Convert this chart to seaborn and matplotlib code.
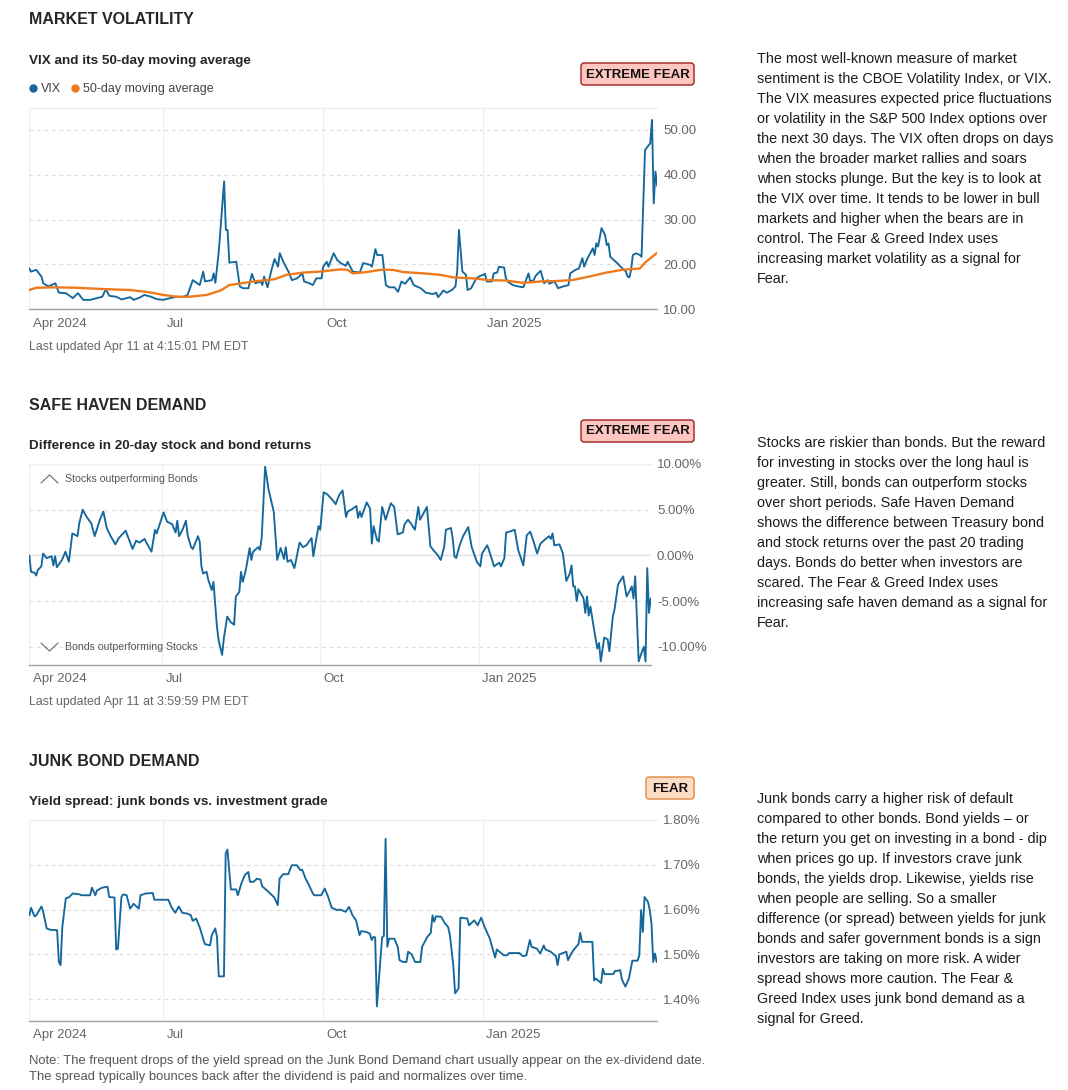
import pandas as pd
import matplotlib
matplotlib.use("Agg")
import matplotlib.pyplot as plt
import matplotlib.ticker as mticker
import seaborn as sns
from matplotlib.transforms import Affine2D, ScaledTranslation
from matplotlib.lines import Line2D
from matplotlib.patches import FancyBboxPatch

# ---------------- data ----------------
vix_dates = ["2024-04-15","2024-04-16","2024-04-19","2024-04-22","2024-04-23","2024-04-26","2024-04-30",
    "2024-05-02","2024-05-06","2024-05-10","2024-05-13","2024-05-16","2024-05-20","2024-05-24","2024-05-27",
    "2024-05-29","2024-05-31","2024-06-04","2024-06-07","2024-06-12","2024-06-14","2024-06-18","2024-06-20",
    "2024-06-24","2024-06-27","2024-07-01","2024-07-05","2024-07-09","2024-07-12","2024-07-15","2024-07-18",
    "2024-07-22","2024-07-24","2024-07-25","2024-07-29","2024-07-30","2024-07-31","2024-08-02","2024-08-05",
    "2024-08-06","2024-08-07","2024-08-08","2024-08-12","2024-08-14","2024-08-16","2024-08-19","2024-08-21",
    "2024-08-23","2024-08-26","2024-08-27","2024-08-28","2024-08-30","2024-09-01","2024-09-03","2024-09-05",
    "2024-09-06","2024-09-08","2024-09-11","2024-09-13","2024-09-16","2024-09-19","2024-09-20","2024-09-23",
    "2024-09-25","2024-09-27","2024-09-30","2024-10-01","2024-10-03","2024-10-04","2024-10-07","2024-10-09",
    "2024-10-11","2024-10-14","2024-10-15","2024-10-18","2024-10-22","2024-10-24","2024-10-28","2024-10-29",
    "2024-10-31","2024-11-01","2024-11-04","2024-11-06","2024-11-08","2024-11-11","2024-11-13","2024-11-15",
    "2024-11-17","2024-11-20","2024-11-22","2024-11-26","2024-11-29","2024-12-03","2024-12-05","2024-12-06",
    "2024-12-08","2024-12-09","2024-12-11","2024-12-14","2024-12-16","2024-12-17","2024-12-18","2024-12-20",
    "2024-12-22","2024-12-23","2024-12-25","2024-12-28","2024-12-30","2025-01-01","2025-01-02","2025-01-03",
    "2025-01-06","2025-01-07","2025-01-09","2025-01-10","2025-01-13","2025-01-14","2025-01-15","2025-01-18",
    "2025-01-21","2025-01-24","2025-01-27","2025-01-28","2025-01-30","2025-01-31","2025-02-03","2025-02-05",
    "2025-02-07","2025-02-08","2025-02-11","2025-02-13","2025-02-16","2025-02-19","2025-02-20","2025-02-23",
    "2025-02-25","2025-02-27","2025-02-28","2025-03-02","2025-03-05","2025-03-06","2025-03-07","2025-03-08",
    "2025-03-10","2025-03-12","2025-03-13","2025-03-14","2025-03-15","2025-03-17","2025-03-19","2025-03-21",
    "2025-03-24","2025-03-25","2025-03-26","2025-03-27","2025-03-28","2025-03-30","2025-04-01","2025-04-02",
    "2025-04-04","2025-04-07","2025-04-08","2025-04-09","2025-04-10","2025-04-11"]
vix_values = [19.1,18.4,18.8,17.3,15.8,15.1,15.8,
    13.7,13.6,12.5,13.6,12.1,12.1,12.5,12.8,
    14.5,13.0,12.8,12.2,12.7,12.1,12.7,13.2,
    12.8,12.3,12.1,12.5,12.8,12.7,13.2,16.5,
    15.4,18.4,16.2,16.5,18.0,15.9,23.2,38.5,
    27.7,27.7,20.4,20.6,15.1,14.7,14.7,17.9,
    15.8,16.2,15.4,17.3,14.9,18.4,21.2,19.5,
    22.5,20.6,18.4,16.5,16.9,18.0,16.2,15.8,
    15.4,16.9,16.9,19.5,20.6,19.5,22.5,21.0,
    20.3,19.7,20.6,18.4,18.2,20.3,19.9,19.5,
    23.4,22.1,22.1,15.4,14.9,14.9,13.9,16.2,
    15.7,17.1,15.4,14.7,13.7,13.4,13.7,12.7,
    13.6,14.2,13.7,14.3,15.1,18.4,27.7,18.4,
    17.7,14.3,14.7,16.9,17.4,17.7,17.9,16.2,
    16.2,18.0,18.2,19.5,19.3,16.9,16.2,15.4,
    15.1,14.9,18.0,16.2,16.5,17.4,18.6,15.8,
    16.5,15.7,16.2,14.7,15.1,15.4,18.0,18.8,
    19.1,21.4,19.5,21.4,23.6,22.1,24.7,24.0,
    28.1,26.6,24.3,24.7,21.7,21.0,20.3,19.5,
    18.4,17.3,17.1,18.8,22.1,22.5,22.1,21.7,
    45.5,47.0,52.2,33.6,40.7,37.5]

ma_dates = ["2024-04-15","2024-04-19","2024-04-29","2024-05-12","2024-05-28","2024-06-12","2024-06-23",
    "2024-07-01","2024-07-09","2024-07-16","2024-07-26","2024-08-03","2024-08-08","2024-08-22","2024-09-03",
    "2024-09-10","2024-09-20","2024-09-29","2024-10-11","2024-10-15","2024-10-18","2024-10-26","2024-11-03",
    "2024-11-10","2024-11-16","2024-11-28","2024-12-07","2024-12-15","2024-12-26","2025-01-04","2025-01-14",
    "2025-01-24","2025-02-03","2025-02-12","2025-02-21","2025-03-03","2025-03-13","2025-03-22","2025-04-01",
    "2025-04-04","2025-04-11"]
ma_values = [14.3,14.8,14.9,14.8,14.5,14.3,13.8,
    13.2,12.8,12.8,13.2,14.2,15.4,16.2,16.7,
    17.7,18.2,18.4,18.9,18.8,18.0,18.3,18.8,
    18.8,18.3,18.0,17.7,17.1,16.9,16.5,16.4,
    15.9,16.2,16.3,16.5,17.3,18.2,18.8,19.1,
    20.4,22.6]

haven_dates = ["2024-04-15","2024-04-16","2024-04-18","2024-04-19","2024-04-20","2024-04-22","2024-04-23",
    "2024-04-25","2024-04-28","2024-04-29","2024-04-30","2024-05-01","2024-05-04","2024-05-06","2024-05-08",
    "2024-05-10","2024-05-13","2024-05-14","2024-05-16","2024-05-18","2024-05-21","2024-05-23","2024-05-26",
    "2024-05-28","2024-05-30","2024-06-01","2024-06-04","2024-06-06","2024-06-10","2024-06-12","2024-06-14",
    "2024-06-16","2024-06-18","2024-06-21","2024-06-22","2024-06-25","2024-06-27","2024-06-28","2024-07-02",
    "2024-07-04","2024-07-07","2024-07-09","2024-07-10","2024-07-11","2024-07-13","2024-07-15","2024-07-16",
    "2024-07-18","2024-07-19","2024-07-22","2024-07-23","2024-07-24","2024-07-25","2024-07-27","2024-07-28",
    "2024-07-30","2024-07-31","2024-08-02","2024-08-03","2024-08-05","2024-08-06","2024-08-08","2024-08-10",
    "2024-08-12","2024-08-13","2024-08-15","2024-08-16","2024-08-17","2024-08-18","2024-08-19","2024-08-21",
    "2024-08-22","2024-08-23","2024-08-26","2024-08-27","2024-08-28","2024-08-30","2024-09-01","2024-09-04",
    "2024-09-06","2024-09-08","2024-09-10","2024-09-11","2024-09-12","2024-09-14","2024-09-16","2024-09-17",
    "2024-09-19","2024-09-21","2024-09-23","2024-09-26","2024-09-27","2024-09-30","2024-10-01","2024-10-03",
    "2024-10-05","2024-10-08","2024-10-10","2024-10-12","2024-10-14","2024-10-16","2024-10-17","2024-10-19",
    "2024-10-22","2024-10-23","2024-10-24","2024-10-25","2024-10-28","2024-10-30","2024-10-31","2024-11-01",
    "2024-11-03","2024-11-04","2024-11-06","2024-11-08","2024-11-11","2024-11-13","2024-11-15","2024-11-18",
    "2024-11-19","2024-11-21","2024-11-23","2024-11-25","2024-11-27","2024-11-28","2024-12-02","2024-12-04",
    "2024-12-06","2024-12-08","2024-12-10","2024-12-12","2024-12-13","2024-12-16","2024-12-17","2024-12-18",
    "2024-12-19","2024-12-21","2024-12-23","2024-12-26","2024-12-28","2024-12-31","2025-01-02","2025-01-03",
    "2025-01-06","2025-01-07","2025-01-10","2025-01-13","2025-01-14","2025-01-16","2025-01-17","2025-01-19",
    "2025-01-22","2025-01-24","2025-01-27","2025-01-29","2025-01-31","2025-02-02","2025-02-04","2025-02-06",
    "2025-02-09","2025-02-11","2025-02-12","2025-02-13","2025-02-14","2025-02-17","2025-02-19","2025-02-21",
    "2025-02-23","2025-02-24","2025-02-25","2025-02-26","2025-02-27","2025-02-28","2025-03-03","2025-03-04",
    "2025-03-05","2025-03-06","2025-03-07","2025-03-09","2025-03-11","2025-03-12","2025-03-13","2025-03-15",
    "2025-03-17","2025-03-18","2025-03-20","2025-03-21","2025-03-23","2025-03-26","2025-03-28","2025-03-30",
    "2025-03-31","2025-04-01","2025-04-02","2025-04-04","2025-04-06","2025-04-07","2025-04-08","2025-04-09",
    "2025-04-10","2025-04-11"]
haven_values = [0.0,-1.8,-1.9,-2.2,-1.6,-1.2,0.2,
    -0.3,-0.1,-1.1,-0.1,-1.3,-0.5,0.4,-0.7,
    2.4,2.1,3.5,5.0,4.3,3.5,2.1,3.9,
    4.8,3.0,2.2,1.2,1.9,2.7,1.7,0.7,
    1.6,1.4,1.8,1.4,0.4,2.8,2.4,4.7,
    3.7,3.4,2.5,3.8,2.1,2.8,3.8,2.2,
    0.9,0.7,2.1,1.5,-1.2,-2.0,-1.8,-2.7,
    -3.8,-2.9,-7.8,-9.3,-10.9,-9.1,-6.7,-7.3,
    -7.6,-4.5,-4.0,-1.8,-2.9,-2.2,-1.4,0.8,
    -0.5,0.4,0.9,0.6,1.9,9.7,7.2,4.8,
    -0.5,0.8,-0.4,0.9,-0.7,-0.5,-1.4,-0.5,
    1.4,0.9,1.1,1.9,-0.1,3.2,2.8,6.9,
    6.7,6.1,5.6,6.6,7.1,4.2,4.8,5.0,
    5.4,4.1,4.8,4.2,5.8,5.1,1.3,3.2,
    1.7,1.5,5.3,3.9,5.7,5.3,2.3,2.5,
    3.4,3.9,3.4,2.8,5.3,3.9,5.3,1.0,
    0.5,0.1,-0.5,0.9,2.8,3.0,1.8,-0.1,
    -0.3,1.1,2.1,3.1,0.9,-0.7,-1.2,0.2,
    1.1,0.6,-1.2,-0.8,-1.2,-0.3,2.5,2.6,
    2.8,0.6,-1.1,2.2,2.6,1.5,0.2,1.3,
    1.8,2.1,1.8,2.4,1.1,1.2,0.2,-2.8,
    -2.0,-1.1,-3.4,-3.4,-5.0,-3.7,-4.7,-6.3,
    -4.5,-6.6,-5.6,-8.0,-10.2,-9.6,-11.6,-9.0,
    -9.2,-10.5,-6.7,-5.9,-3.2,-2.3,-4.5,-3.8,
    -3.4,-4.7,-2.3,-11.6,-10.5,-10.0,-11.6,-1.4,
    -6.3,-4.7]

junk_dates = ["2024-04-15","2024-04-16","2024-04-18","2024-04-19","2024-04-22","2024-04-23","2024-04-25",
    "2024-04-27","2024-05-01","2024-05-02","2024-05-03","2024-05-04","2024-05-06","2024-05-08","2024-05-10",
    "2024-05-14","2024-05-15","2024-05-20","2024-05-21","2024-05-23","2024-05-24","2024-05-27","2024-05-30",
    "2024-05-31","2024-06-03","2024-06-04","2024-06-05","2024-06-07","2024-06-08","2024-06-10","2024-06-12",
    "2024-06-14","2024-06-17","2024-06-18","2024-06-21","2024-06-25","2024-06-26","2024-07-04","2024-07-06",
    "2024-07-08","2024-07-10","2024-07-12","2024-07-15","2024-07-17","2024-07-18","2024-07-20","2024-07-22",
    "2024-07-25","2024-07-28","2024-07-29","2024-07-31","2024-08-01","2024-08-02","2024-08-05","2024-08-06",
    "2024-08-07","2024-08-09","2024-08-12","2024-08-13","2024-08-15","2024-08-17","2024-08-19","2024-08-20",
    "2024-08-22","2024-08-24","2024-08-26","2024-08-27","2024-08-30","2024-09-03","2024-09-05","2024-09-06",
    "2024-09-08","2024-09-11","2024-09-13","2024-09-16","2024-09-18","2024-09-19","2024-09-21","2024-09-23",
    "2024-09-25","2024-09-26","2024-09-30","2024-10-02","2024-10-04","2024-10-06","2024-10-09","2024-10-11",
    "2024-10-14","2024-10-16","2024-10-18","2024-10-20","2024-10-22","2024-10-23","2024-10-26","2024-10-28",
    "2024-10-29","2024-10-30","2024-10-31","2024-11-01","2024-11-04","2024-11-05","2024-11-06","2024-11-07",
    "2024-11-08","2024-11-11","2024-11-13","2024-11-14","2024-11-16","2024-11-18","2024-11-19","2024-11-21",
    "2024-11-23","2024-11-26","2024-11-27","2024-11-30","2024-12-02","2024-12-03","2024-12-04","2024-12-05",
    "2024-12-08","2024-12-10","2024-12-12","2024-12-13","2024-12-15","2024-12-16","2024-12-18","2024-12-19",
    "2024-12-23","2024-12-24","2024-12-27","2024-12-29","2024-12-31","2025-01-02","2025-01-05","2025-01-08",
    "2025-01-09","2025-01-13","2025-01-15","2025-01-16","2025-01-22","2025-01-24","2025-01-26","2025-01-28",
    "2025-01-29","2025-02-01","2025-02-03","2025-02-05","2025-02-06","2025-02-09","2025-02-12","2025-02-13",
    "2025-02-14","2025-02-16","2025-02-18","2025-02-19","2025-02-20","2025-02-22","2025-02-25","2025-02-26",
    "2025-02-27","2025-03-05","2025-03-06","2025-03-07","2025-03-10","2025-03-11","2025-03-12","2025-03-17",
    "2025-03-18","2025-03-19","2025-03-21","2025-03-22","2025-03-24","2025-03-26","2025-03-28","2025-03-31",
    "2025-04-01","2025-04-02","2025-04-03","2025-04-04","2025-04-06","2025-04-07","2025-04-08","2025-04-09",
    "2025-04-10","2025-04-11"]
junk_values = [1.587,1.604,1.585,1.587,1.607,1.595,1.558,
    1.555,1.554,1.483,1.476,1.561,1.625,1.628,1.636,
    1.634,1.632,1.632,1.649,1.632,1.643,1.649,1.651,
    1.628,1.627,1.511,1.513,1.628,1.634,1.632,1.602,
    1.613,1.602,1.632,1.636,1.637,1.622,1.622,1.604,
    1.593,1.607,1.593,1.591,1.587,1.575,1.580,1.561,
    1.523,1.520,1.543,1.558,1.539,1.451,1.451,1.725,
    1.734,1.645,1.645,1.632,1.658,1.677,1.684,1.662,
    1.662,1.669,1.667,1.652,1.642,1.627,1.610,1.669,
    1.679,1.679,1.699,1.699,1.688,1.689,1.669,1.654,
    1.637,1.632,1.632,1.647,1.628,1.604,1.599,1.600,
    1.595,1.606,1.587,1.576,1.543,1.552,1.550,1.546,
    1.532,1.539,1.538,1.384,1.538,1.541,1.758,1.517,
    1.535,1.535,1.517,1.487,1.483,1.483,1.506,1.500,
    1.483,1.483,1.517,1.539,1.548,1.587,1.573,1.585,
    1.584,1.570,1.561,1.543,1.474,1.413,1.424,1.582,
    1.580,1.565,1.576,1.565,1.582,1.561,1.535,1.493,
    1.511,1.498,1.498,1.503,1.503,1.496,1.498,1.532,
    1.517,1.513,1.502,1.520,1.511,1.506,1.496,1.476,
    1.500,1.503,1.506,1.487,1.496,1.509,1.523,1.548,
    1.528,1.528,1.442,1.446,1.436,1.468,1.456,1.456,
    1.463,1.463,1.465,1.444,1.428,1.446,1.486,1.486,
    1.498,1.599,1.550,1.628,1.617,1.599,1.569,1.483,
    1.502,1.483]

x_tick_dates = ["2024-04-15", "2024-07-01", "2024-10-01", "2025-01-01"]
x_tick_labels = ["Apr 2024", "Jul", "Oct", "Jan 2025"]
vix_ticks = [10, 20, 30, 40, 50]
haven_ticks = [-10, -5, 0, 5, 10]
junk_ticks = [1.40, 1.50, 1.60, 1.70, 1.80]

legend_labels = ["VIX", "50-day moving average"]

text_vol = ["The most well-known measure of market",
    "sentiment is the CBOE Volatility Index, or VIX.",
    "The VIX measures expected price fluctuations",
    "or volatility in the S&P 500 Index options over",
    "the next 30 days. The VIX often drops on days",
    "when the broader market rallies and soars",
    "when stocks plunge. But the key is to look at",
    "the VIX over time. It tends to be lower in bull",
    "markets and higher when the bears are in",
    "control. The Fear & Greed Index uses",
    "increasing market volatility as a signal for",
    "Fear."]
text_haven = ["Stocks are riskier than bonds. But the reward",
    "for investing in stocks over the long haul is",
    "greater. Still, bonds can outperform stocks",
    "over short periods. Safe Haven Demand",
    "shows the difference between Treasury bond",
    "and stock returns over the past 20 trading",
    "days. Bonds do better when investors are",
    "scared. The Fear & Greed Index uses",
    "increasing safe haven demand as a signal for",
    "Fear."]
text_junk = ["Junk bonds carry a higher risk of default",
    "compared to other bonds. Bond yields \u2013 or",
    "the return you get on investing in a bond - dip",
    "when prices go up. If investors crave junk",
    "bonds, the yields drop. Likewise, yields rise",
    "when people are selling. So a smaller",
    "difference (or spread) between yields for junk",
    "bonds and safer government bonds is a sign",
    "investors are taking on more risk. A wider",
    "spread shows more caution. The Fear &",
    "Greed Index uses junk bond demand as a",
    "signal for Greed."]

# ---------------- style ----------------
sns.set_theme(style="white")
plt.rcParams["font.family"] = ["Liberation Sans", "DejaVu Sans"]
plt.rcParams["axes.unicode_minus"] = False

W, H = 1068, 1090
fig = plt.figure(figsize=(W / 100, H / 100), dpi=100)
fig.patch.set_facecolor("white")
tpx = Affine2D().scale(1 / 100) + fig.dpi_scale_trans  # pixel coords, y up

BLUE = "#13679b"
ORANGE = "#ef7a1c"
HEAD = "#262626"
BODY = "#1c1c1c"
GREY = "#666666"


def ftext(x, y, s, **kw):
    fig.text(x, H - y, s, transform=tpx, **kw)


def add_axes(x0, y0, x1, y1):
    return fig.add_axes([x0 / W, 1 - y1 / H, (x1 - x0) / W, (y1 - y0) / H])


def style(ax, ticks, ylim, fmt, solid=()):
    xd = pd.to_datetime(x_tick_dates)
    ax.set_ylim(*ylim)
    ax.set_xlabel("")
    ax.set_ylabel("")
    for s in ["left", "right"]:
        ax.spines[s].set_visible(False)
    ax.spines["top"].set_color("#efefef")
    ax.spines["top"].set_linewidth(1.0)
    ax.spines["bottom"].set_color("#a0a0a0")
    ax.spines["bottom"].set_linewidth(1.0)
    ax.yaxis.tick_right()
    ax.set_yticks(ticks)
    ax.yaxis.set_major_formatter(mticker.FuncFormatter(fmt))
    ax.tick_params(axis="y", length=0, pad=4.5, labelsize=9.5, labelcolor=GREY)
    ax.set_xticks(xd)
    ax.set_xticklabels(x_tick_labels)
    ax.tick_params(axis="x", length=0, pad=6, labelsize=9.5, labelcolor=GREY)
    off = ScaledTranslation(3.5 / 100, 0, fig.dpi_scale_trans)
    for lab in ax.get_xticklabels():
        lab.set_horizontalalignment("left")
        lab.set_transform(lab.get_transform() + off)
    ax.grid(axis="x", color="#f0f0f0", lw=1.0, ls="-")
    ax.grid(axis="y", color="#dedede", lw=0.9, ls=(0, (3, 3)))
    for v in solid:
        ax.axhline(v, color="#e2e2e2", lw=1.0, zorder=0.6)
    ax.set_axisbelow(True)


def badge(x0, y0, x1, y1, label, fc, ec):
    p = FancyBboxPatch((x0, H - y1), x1 - x0, y1 - y0,
                       boxstyle="round,pad=0,rounding_size=3",
                       transform=tpx, fc=fc, ec=ec, lw=1.0)
    fig.add_artist(p)
    ftext((x0 + x1) / 2, (y0 + y1) / 2 + 0.5, label, ha="center", va="center",
          fontsize=9.5, fontweight="bold", color="#111111")


def paragraph(lines, y0):
    for i, s in enumerate(lines):
        ftext(757, y0 + 20 * i, s, ha="left", va="center", fontsize=10.4, color=BODY)


xlim = (pd.Timestamp(vix_dates[0]), pd.Timestamp(vix_dates[-1]))

# ---------------- chart 1: VIX ----------------
ftext(29, 20, "MARKET VOLATILITY", fontsize=11.5, fontweight="bold", color=HEAD, va="center")
ftext(29, 61, "VIX and its 50-day moving average", fontsize=9.7, fontweight="bold", color=HEAD, va="center")
badge(581, 63, 694, 85, "EXTREME FEAR", "#ffc6c0", "#9c1f1f")

ax1 = add_axes(29.3, 108.3, 657.2, 309.3)
sns.lineplot(x=pd.to_datetime(vix_dates), y=vix_values, ax=ax1, color=BLUE, lw=1.35)
sns.lineplot(x=pd.to_datetime(ma_dates), y=ma_values, ax=ax1, color=ORANGE, lw=1.7)
ax1.set_xlim(*xlim)
style(ax1, vix_ticks, (10, 54.8), lambda v, p: f"{v:.2f}")

handles = [Line2D([], [], marker="o", ls="", color=BLUE, markersize=5),
           Line2D([], [], marker="o", ls="", color=ORANGE, markersize=5)]
fig.legend(handles, legend_labels, loc="center left", bbox_to_anchor=(30, H - 89),
           bbox_transform=tpx, frameon=False, ncol=2, handlelength=0.5,
           handletextpad=0.4, columnspacing=0.8, fontsize=9.0, labelcolor="#444444",
           borderpad=0, borderaxespad=0)
ftext(29, 347, "Last updated Apr 11 at 4:15:01 PM EDT", fontsize=8.9, color=GREY, va="center")
paragraph(text_vol, 59)

# ---------------- chart 2: safe haven ----------------
ftext(29, 405, "SAFE HAVEN DEMAND", fontsize=11.5, fontweight="bold", color=HEAD, va="center")
ftext(29, 446, "Difference in 20-day stock and bond returns", fontsize=9.7, fontweight="bold", color=HEAD, va="center")
badge(581, 420, 694, 442, "EXTREME FEAR", "#ffc6c0", "#9c1f1f")

ax2 = add_axes(29.3, 464.0, 650.7, 665.0)
sns.lineplot(x=pd.to_datetime(haven_dates), y=haven_values, ax=ax2, color=BLUE, lw=1.35)
ax2.set_xlim(*xlim)
style(ax2, haven_ticks, (-12, 10), lambda v, p: f"{v:.2f}%", solid=(0,))

# chevrons + labels
for (ya, yb, lab) in [(483, 475, "Stocks outperforming Bonds"), (643, 651, "Bonds outperforming Stocks")]:
    fig.add_artist(Line2D([41, 49.5, 58], [H - ya, H - yb, H - ya], transform=tpx,
                          color="#777777", lw=0.9))
    ftext(65, (ya + yb) / 2 + 0.5, lab, fontsize=7.6, color="#555555", va="center")

ftext(29, 702, "Last updated Apr 11 at 3:59:59 PM EDT", fontsize=8.9, color=GREY, va="center")
paragraph(text_haven, 443)

# ---------------- chart 3: junk bond ----------------
ftext(29, 761, "JUNK BOND DEMAND", fontsize=11.5, fontweight="bold", color=HEAD, va="center")
ftext(29, 802, "Yield spread: junk bonds vs. investment grade", fontsize=9.7, fontweight="bold", color=HEAD, va="center")
badge(646, 777, 694, 799, "FEAR", "#fddcc6", "#e0883e")

ax3 = add_axes(29.3, 820.0, 656.7, 1020.7)
sns.lineplot(x=pd.to_datetime(junk_dates), y=junk_values, ax=ax3, color=BLUE, lw=1.35)
ax3.set_xlim(*xlim)
style(ax3, junk_ticks, (1.352, 1.80), lambda v, p: f"{v:.2f}%")

ftext(29, 1061, "Note: The frequent drops of the yield spread on the Junk Bond Demand chart usually appear on the ex-dividend date.",
      fontsize=9.4, color="#555555", va="center")
ftext(29, 1077, "The spread typically bounces back after the dividend is paid and normalizes over time.",
      fontsize=9.4, color="#555555", va="center")
paragraph(text_junk, 799)

fig.savefig("out.png", dpi=100, facecolor="white")
